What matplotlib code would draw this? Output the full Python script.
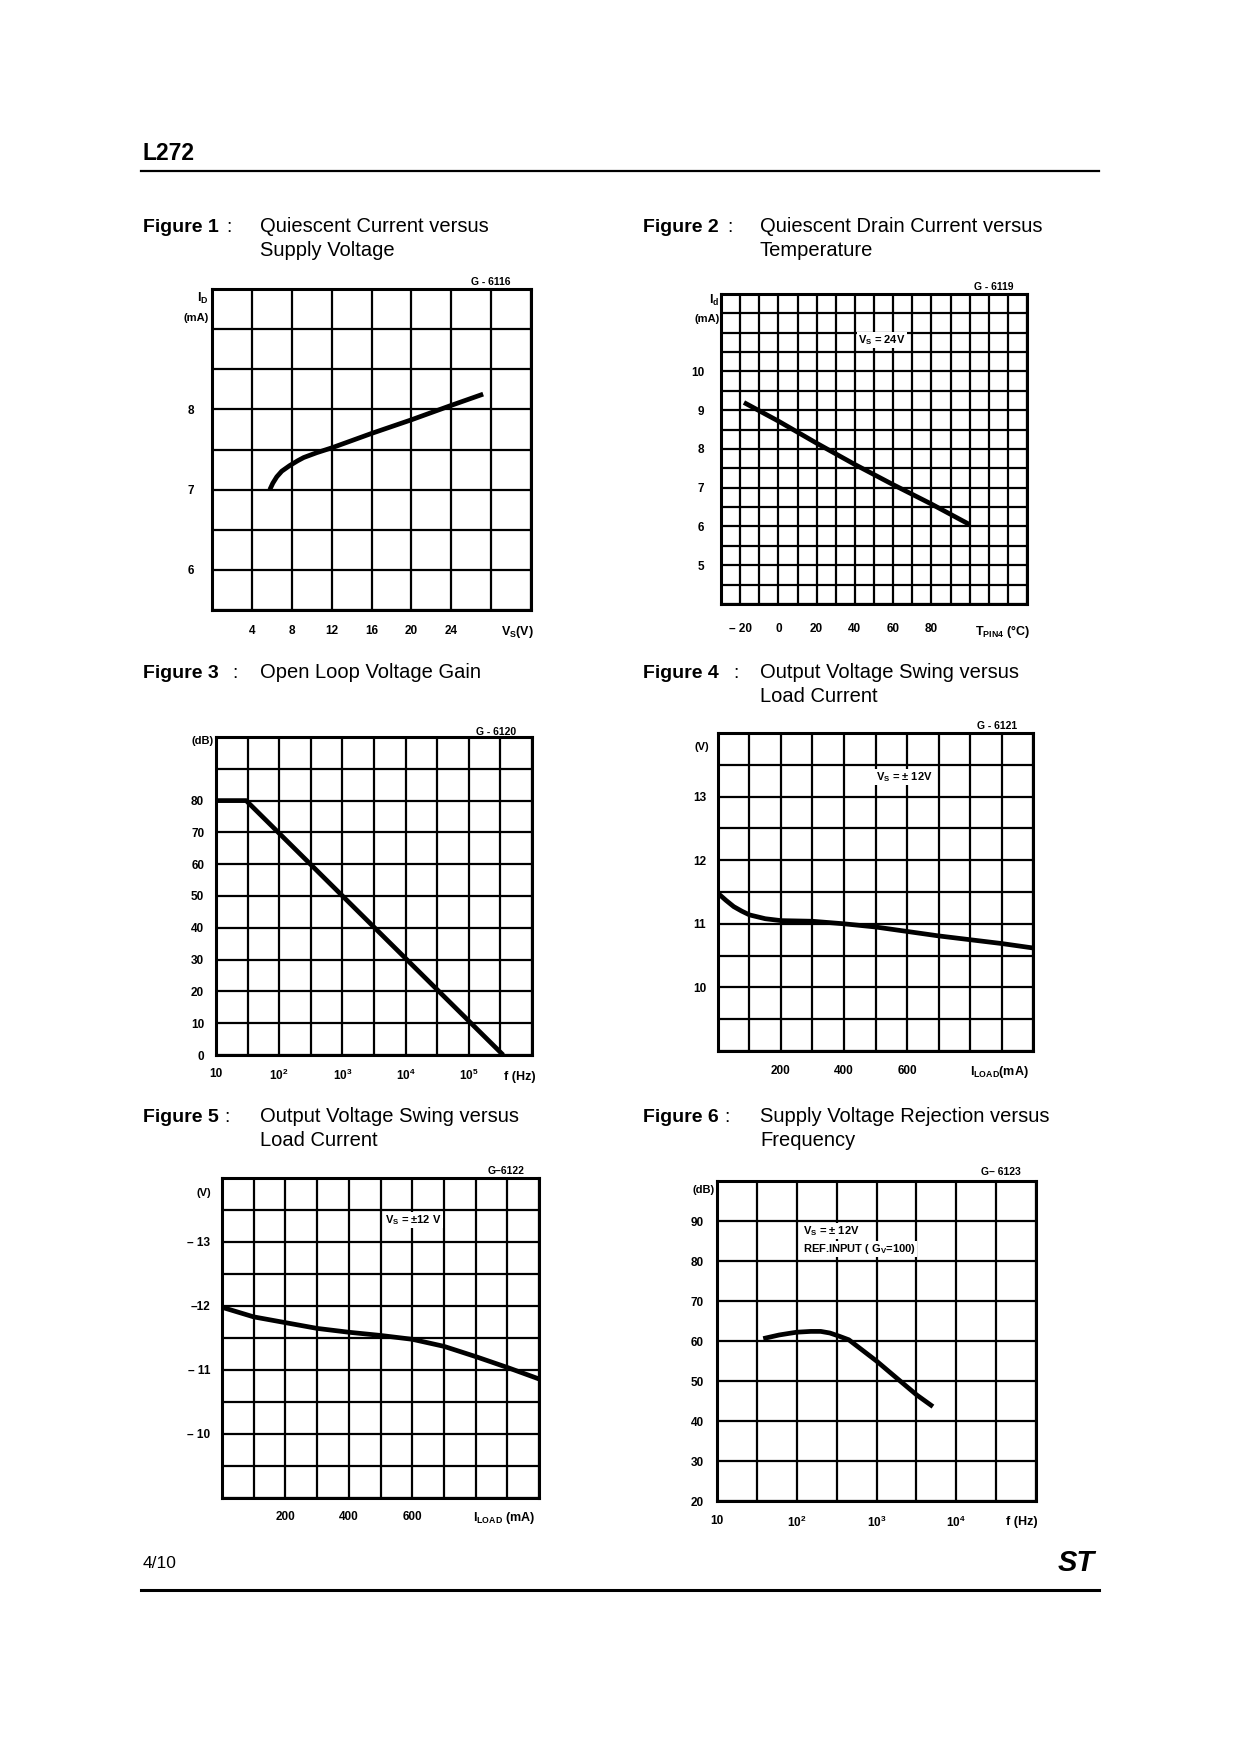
import numpy as np
import matplotlib
matplotlib.use("Agg")
import matplotlib.pyplot as plt
from matplotlib.ticker import NullFormatter

W, H = 1240, 1754

plt.rcParams['font.family'] = ['Liberation Sans', 'DejaVu Sans']
plt.rcParams['mathtext.fontset'] = 'custom'
plt.rcParams['mathtext.rm'] = 'Liberation Sans:bold'
plt.rcParams['mathtext.it'] = 'Liberation Sans:bold'
plt.rcParams['mathtext.bf'] = 'Liberation Sans:bold'

# Figure 1 : quiescent current vs supply voltage
fig1_vs = [5.8, 6.1, 6.5, 7.0, 7.8, 8.6, 9.2, 10.5, 12, 16, 20, 24, 27.2]
fig1_id = [7.0, 7.08, 7.16, 7.23, 7.3, 7.36, 7.4, 7.46, 7.52, 7.7, 7.87, 8.05, 8.19]

# Figure 2 : quiescent drain current vs temperature
fig2_temp = [-18, 0, 20, 40, 60, 80, 100]
fig2_id = [9.2, 8.72, 8.15, 7.6, 7.08, 6.58, 6.05]

# Figure 3 : open loop voltage gain
fig3_f = [10, 30, 3.5e5]
fig3_gain = [80, 80, 0]

# Figure 4 : output voltage swing (positive) vs load current
fig4_load = [0, 25, 50, 75, 100, 150, 200, 300, 400, 500, 600, 700, 800, 900, 1000]
fig4_v = [11.48, 11.37, 11.27, 11.2, 11.14, 11.08, 11.05, 11.04, 11.0, 10.95, 10.88,
          10.81, 10.75, 10.69, 10.62]

# Figure 5 : output voltage swing (negative) vs load current
fig5_load = [0, 100, 200, 300, 400, 500, 600, 700, 800, 900, 1000]
fig5_v = [-11.98, -11.83, -11.74, -11.65, -11.59, -11.54, -11.48, -11.37, -11.21, -11.04, -10.86]

# Figure 6 : supply voltage rejection vs frequency
fig6_f = [38, 60, 80, 100, 150, 200, 260, 330, 450, 1000, 1900, 3200, 5100]
fig6_svr = [60.6, 61.5, 61.9, 62.2, 62.4, 62.4, 62.0, 61.3, 60.3, 55.0, 50.3, 46.5, 43.6]

fig = plt.figure(figsize=(W / 100, H / 100), dpi=100)

# page overlay in pixel coordinates (y down)
page = fig.add_axes([0, 0, 1, 1], zorder=10)
page.set_xlim(0, W)
page.set_ylim(H, 0)
page.axis('off')

TICK = 8.5


def chart(box, xlim, ylim, xgrid, ygrid, xticks, xlabels, yticks, ylabels,
          xpad, ypad, log=False):
    l, t, r, b = box
    ax = fig.add_axes([l / W, 1 - b / H, (r - l) / W, (b - t) / H])
    if log:
        ax.set_xscale('log')
    ax.set_xlim(xlim)
    ax.set_ylim(ylim)
    ax.set_xticks(xgrid, minor=True)
    ax.set_yticks(ygrid, minor=True)
    ax.set_xticks(xticks, xlabels, fontsize=TICK, fontweight='bold')
    ax.set_yticks(yticks, ylabels, fontsize=TICK, fontweight='bold')
    ax.xaxis.set_minor_formatter(NullFormatter())
    ax.yaxis.set_minor_formatter(NullFormatter())
    ax.tick_params(which='both', length=0)
    ax.tick_params(axis='x', pad=xpad)
    ax.tick_params(axis='y', pad=ypad)
    ax.grid(True, which='both', color='black', lw=1.6)
    for s in ax.spines.values():
        s.set_linewidth(2.2)
    return ax


def small(x, y, s, ha='center', box=False, size=8):
    kw = dict(fontsize=size, fontweight='bold', ha=ha, va='center')
    if box:
        kw['bbox'] = dict(facecolor='white', edgecolor='none', pad=1.0)
    page.text(x, y, s, **kw)


def title(x, y, num, lines, colon_x, text_x):
    page.text(x, y, 'Figure %d' % num, fontsize=14, fontweight='bold', va='center')
    page.text(colon_x, y, ':', fontsize=14, va='center')
    for i, line in enumerate(lines):
        page.text(text_x, y + 24 * i, line, fontsize=14.5, va='center')


# header / footer
page.text(142, 154, 'L272', fontsize=16.5, fontweight='bold', va='center')
page.plot([141, 1099], [171, 171], color='black', lw=1.6)
page.text(143, 1563, '4/10', fontsize=12.5, va='center',
          family=['Liberation Sans Narrow', 'Liberation Sans'])
page.plot([141, 1099], [1590, 1590], color='black', lw=2.2)
page.text(1076, 1563, 'ST', fontsize=21, fontweight='heavy', fontstyle='italic',
          ha='center', va='center')

CURVE = dict(color='black', lw=3.4, solid_capstyle='butt', solid_joinstyle='round')

# ---------------- Figure 1
title(143, 227, 1, ['Quiescent Current versus', 'Supply Voltage'], 226, 260)
ax1 = chart((212, 289, 531, 610), (0, 32), (5.5, 9.5),
            np.arange(0, 33, 4), np.arange(5.5, 9.6, 0.5),
            [4, 8, 12, 16, 20, 24], ['4', '8', '12', '16', '20', '24'],
            [6, 7, 8], ['6', '7', '8'], 10.5, 13)
ax1.plot(fig1_vs, fig1_id, **CURVE)
small(491, 282, 'G - 6116', size=7.5)
small(209, 298, r'I$_D$', ha='right', size=9)
small(209, 318, '(mA)', ha='right')
small(517, 632, r'V$_S$(V)', size=9)

# ---------------- Figure 2
title(643, 227, 2, ['Quiescent Drain Current versus', 'Temperature'], 727, 760)
ax2 = chart((721, 294, 1027, 604), (-30, 130), (4, 12),
            np.arange(-30, 131, 10), np.arange(4, 12.1, 0.5),
            [-20, 0, 20, 40, 60, 80], ['\u2013 20', '0', '20', '40', '60', '80'],
            [5, 6, 7, 8, 9, 10], ['5', '6', '7', '8', '9', '10'], 14, 12)
ax2.plot(fig2_temp, fig2_id, **CURVE)
small(994, 287, 'G - 6119', size=7.5)
small(719, 300, r'I$_d$', ha='right', size=9)
small(720, 319, '(mA)', ha='right')
small(882, 340, r'V$_S$ = 24V', box=True)
small(1002, 632, r'T$_{PIN4}$ (°C)', size=9)

# ---------------- Figure 3
title(143, 673, 3, ['Open Loop Voltage Gain'], 232, 260)
ax3 = chart((216, 737, 532, 1055), (10, 1e6), (0, 100),
            10 ** np.arange(1, 6.01, 0.5), np.arange(0, 101, 10),
            [10, 1e2, 1e3, 1e4, 1e5], ['10', '$10^2$', '$10^3$', '$10^4$', '$10^5$'],
            [0, 10, 20, 30, 40, 50, 60, 70, 80],
            ['0', '10', '20', '30', '40', '50', '60', '70', '80'], 9.5, 8.5, log=True)
ax3.plot(fig3_f, fig3_gain, **CURVE)
small(496, 732, 'G - 6120', size=7.5)
small(214, 741, '(dB)', ha='right')
small(520, 1077, 'f (Hz)', size=9)

# ---------------- Figure 4
title(643, 673, 4, ['Output Voltage Swing versus', 'Load Current'], 733, 760)
ax4 = chart((718, 733, 1033, 1051), (0, 1000), (9, 14),
            np.arange(0, 1001, 100), np.arange(9, 14.1, 0.5),
            [200, 400, 600], ['200', '400', '600'],
            [10, 11, 12, 13], ['10', '11', '12', '13'], 10, 8.5)
ax4.plot(fig4_load, fig4_v, **CURVE)
small(997, 726, 'G - 6121', size=7.5)
small(702, 747, '(V)')
small(904, 777, r'V$_S$ = ± 12V', box=True)
small(999, 1072, r'I$_{LOAD}$(mA)', size=9)

# ---------------- Figure 5
title(143, 1117, 5, ['Output Voltage Swing versus', 'Load Current'], 224, 260)
ax5 = chart((222, 1178, 539, 1498), (0, 1000), (-9, -14),
            np.arange(0, 1001, 100), np.arange(-14, -8.9, 0.5),
            [200, 400, 600], ['200', '400', '600'],
            [-13, -12, -11, -10], ['\u2013 13', '\u201312', '\u2013 11', '\u2013 10'],
            9.5, 8.5)
ax5.plot(fig5_load, fig5_v, **CURVE)
small(506, 1171, 'G\u20136122', size=7.5)
small(204, 1193, '(V)')
small(413, 1220, r'V$_S$ = ±12 V', box=True)
small(504, 1518, r'I$_{LOAD}$ (mA)', size=9)

# ---------------- Figure 6
title(643, 1117, 6, ['Supply Voltage Rejection versus', 'Frequency'], 724, 760)
ax6 = chart((717, 1181, 1036, 1501), (10, 1e5), (20, 100),
            10 ** np.arange(1, 5.01, 0.5), np.arange(20, 101, 10),
            [10, 1e2, 1e3, 1e4], ['10', '$10^2$', '$10^3$', '$10^4$'],
            [20, 30, 40, 50, 60, 70, 80, 90],
            ['20', '30', '40', '50', '60', '70', '80', '90'], 10, 9.5, log=True)
ax6.plot(fig6_f, fig6_svr, **CURVE)
small(1001, 1172, 'G\u2013 6123', size=7.5)
small(715, 1190, '(dB)', ha='right')
page.text(803, 1231, r'V$_S$ = ± 12V', fontsize=8, fontweight='bold', va='center',
          bbox=dict(facecolor='white', edgecolor='none', pad=1.0))
page.text(803, 1249, r'REF.INPUT ( G$_V$=100)', fontsize=8, fontweight='bold',
          va='center', bbox=dict(facecolor='white', edgecolor='none', pad=1.0))
small(1022, 1522, 'f (Hz)', size=9)

fig.savefig('out.png', dpi=100, facecolor='white')
